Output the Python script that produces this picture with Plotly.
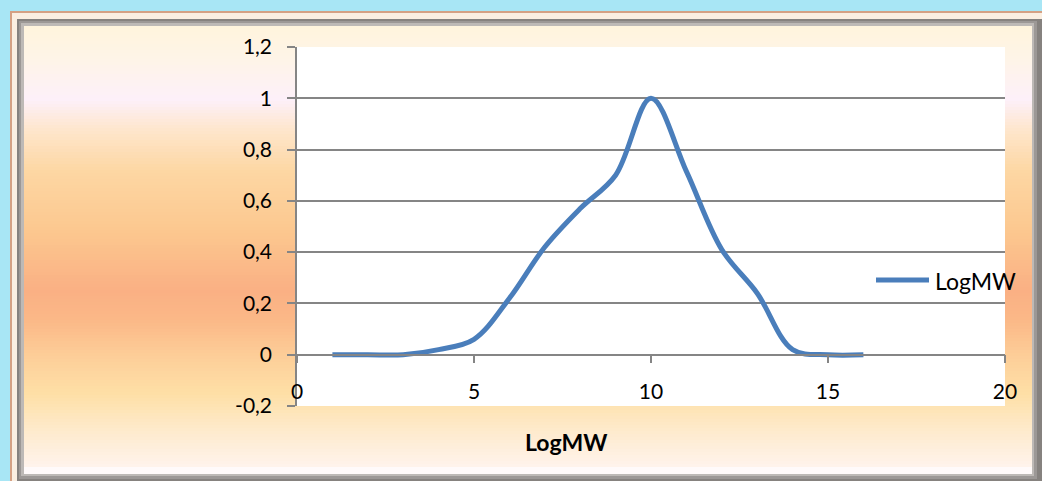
import plotly.graph_objects as go

# ---- data ----
series_name = "LogMW"
x_values = [1, 2, 3, 4, 5, 6, 7, 8, 9, 10, 11, 12, 13, 14, 15, 16]
y_values = [0, 0, 0, 0.02, 0.06, 0.22, 0.42, 0.57, 0.70, 1.0, 0.715, 0.41, 0.24, 0.02, 0, 0]
x_tick_vals = [0, 5, 10, 15, 20]
x_tick_labels = ["0", "5", "10", "15", "20"]
y_tick_vals = [-0.2, 0, 0.2, 0.4, 0.6, 0.8, 1.0, 1.2]
y_tick_labels = ["-0,2", "0", "0,2", "0,4", "0,6", "0,8", "1", "1,2"]
x_title = "LogMW"

W, H = 1042, 481
FONT = "Lato"
GRID = "#858585"
BLUE = "#4A7EBB"

def px(x):
    return x / W

def py(y):
    return 1 - y / H

# plot area in pixels
L, R, T, B = 297, 1005, 47, 406

def hex2rgb(h):
    h = h.lstrip("#")
    return tuple(int(h[i:i + 2], 16) for i in (0, 2, 4))

stops = [
    (26, "#FFF4DD"), (60, "#FEF4E8"), (100, "#FDF0F9"), (130, "#FEE6CC"),
    (170, "#FDD7A4"), (230, "#FCC88F"), (290, "#FAB084"), (320, "#FBB887"),
    (360, "#FDD09A"), (395, "#FEE0A7"), (430, "#FEEACC"), (474, "#FFF5F2"),
]

def color_at(y):
    for (y0, c0), (y1, c1) in zip(stops[:-1], stops[1:]):
        if y0 <= y <= y1:
            t = (y - y0) / (y1 - y0)
            a, b = hex2rgb(c0), hex2rgb(c1)
            r = [round(a[i] + (b[i] - a[i]) * t) for i in range(3)]
            return "rgb(%d,%d,%d)" % tuple(r)
    return stops[-1][1] if y > stops[-1][0] else stops[0][1]

shapes = []

def rect(x0, y0, x1, y1, fill, line=None, lw=0):
    shapes.append(dict(type="rect", xref="paper", yref="paper", layer="below",
                       x0=px(x0), x1=px(x1), y0=py(y1), y1=py(y0),
                       fillcolor=fill,
                       line=dict(width=lw, color=line or fill)))

# outer frame
rect(11, 12, W + 2, H + 2, "#FBEFE2", "#D5A184", 2)
# bevel (gray)
rect(17, 19, W + 2, H + 2, "#86827F")
rect(19, 21, 1037, 479, "#9C9896")
rect(21, 23, 1034, 476, "#BDB9B6")
# gradient interior
y = 26
step = 3
while y < 474:
    rect(24, y, 1032, min(y + step + 0.6, 474), color_at(y + step / 2))
    y += step
# bottom highlight
rect(24, 467, 1032, 474, "#FFFAFA")
# white plot area
rect(L, T, R, B, "#FFFFFF")

# legend (manual to match sample length)
shapes.append(dict(type="line", xref="paper", yref="paper",
                   x0=px(876), x1=px(929), y0=py(280), y1=py(280),
                   line=dict(color=BLUE, width=5)))

fig = go.Figure()
fig.add_trace(go.Scatter(
    x=x_values, y=y_values, mode="lines", name=series_name,
    line=dict(color=BLUE, width=5, shape="spline", smoothing=1),
    showlegend=False,
))

zero_pos = py(B) + (0 - y_tick_vals[0]) / (y_tick_vals[-1] - y_tick_vals[0]) * (py(T) - py(B))

fig.update_layout(
    width=W, height=H,
    margin=dict(l=0, r=0, t=0, b=0),
    paper_bgcolor="#A8E6F5",
    plot_bgcolor="rgba(0,0,0,0)",
    font=dict(family=FONT, color="#000000", size=21),
    shapes=shapes,
    showlegend=False,
    xaxis=dict(
        domain=[px(L), px(R)], range=[0, 20],
        anchor="free", position=zero_pos,
        tickmode="array", tickvals=x_tick_vals, ticktext=x_tick_labels,
        showgrid=False, zeroline=False,
        showline=True, linecolor=GRID, linewidth=1.5,
        ticks="outside", ticklen=8, tickcolor=GRID, tickwidth=1.5,
        ticklabelstandoff=10,
        tickfont=dict(size=21),
        automargin=False,
    ),
    yaxis=dict(
        domain=[py(B), py(T)], range=[y_tick_vals[0], y_tick_vals[-1]],
        tickmode="array", tickvals=y_tick_vals, ticktext=y_tick_labels,
        showgrid=True, gridcolor=GRID, gridwidth=1.5,
        zeroline=False,
        showline=True, linecolor=GRID, linewidth=1.5,
        ticks="outside", ticklen=8, tickcolor=GRID, tickwidth=1.5,
        ticklabelstandoff=11,
        tickfont=dict(size=21),
        automargin=False,
    ),
    annotations=[
        dict(text=series_name, xref="paper", yref="paper",
             x=px(933), y=py(281), xanchor="left", yanchor="middle",
             showarrow=False, font=dict(size=23, family=FONT, color="#000000")),
        dict(text="<b>" + x_title + "</b>", xref="paper", yref="paper",
             x=px(566), y=py(442), xanchor="center", yanchor="middle",
             showarrow=False, font=dict(size=23, family=FONT, color="#000000")),
    ],
)

fig.write_html("out.html")
